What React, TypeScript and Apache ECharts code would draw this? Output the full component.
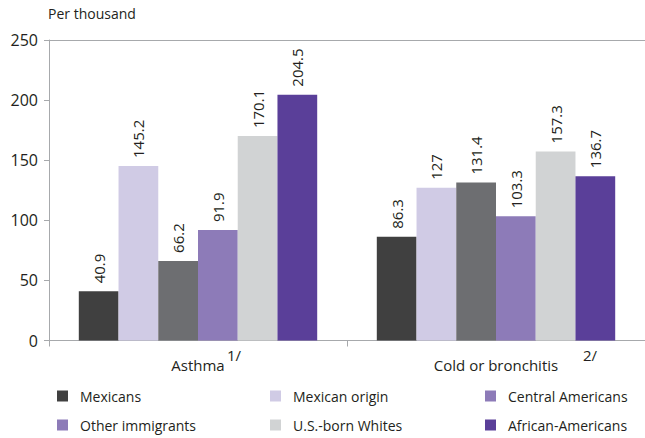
import React, { useEffect, useRef } from "react";
import * as echarts from "echarts";

const categories = ["Asthma", "Cold or bronchitis"];
const footnotes = ["1/", "2/"];
const seriesNames = [
  "Mexicans",
  "Mexican origin",
  "Central Americans",
  "Other immigrants",
  "U.S.-born Whites",
  "African-Americans",
];
const mexicans = [40.9, 86.3];
const mexicanOrigin = [145.2, 127];
const centralAmericans = [66.2, 131.4];
const otherImmigrants = [91.9, 103.3];
const usBornWhites = [170.1, 157.3];
const africanAmericans = [204.5, 136.7];
const yTicks = [0, 50, 100, 150, 200, 250];

const seriesValues = [mexicans, mexicanOrigin, centralAmericans, otherImmigrants, usBornWhites, africanAmericans];
const barColors = ["#404040", "#d0cbe5", "#6d6e71", "#8d7bb8", "#d1d3d4", "#5a3f99"];
const legendColors = ["#404040", "#d0cbe5", "#8d7bb8", "#8d7bb8", "#d1d3d4", "#5a3f99"];

const FONT = "'Open Sans', 'Noto Sans', sans-serif";
const TXT = "#231f20";
const AXIS = "#a7a9ac";

export default function App() {
  const ref = useRef<HTMLDivElement>(null);
  useEffect(() => {
    if (!ref.current) return;
    const chart = echarts.init(ref.current, undefined, { renderer: "svg" });
    const legendPos = [
      [57, 387],
      [270, 387],
      [485, 387],
      [57, 416],
      [270, 416],
      [485, 416],
    ];
    chart.setOption({
      animation: false,
      textStyle: { fontFamily: FONT, color: TXT },
      title: {
        text: "Per thousand",
        left: 48,
        top: 6,
        padding: 0,
        textStyle: { fontFamily: FONT, fontSize: 14, fontWeight: "normal", color: TXT },
      },
      grid: { left: 49, right: -6, top: 40, bottom: 97.5, containLabel: false },
      legend: seriesNames.map((n, i) => ({
        data: [{ name: n, itemStyle: { color: legendColors[i] } }],
        left: legendPos[i][0],
        top: legendPos[i][1],
        padding: 0,
        icon: "rect",
        itemWidth: 11,
        itemHeight: 11,
        selectedMode: false,
        textStyle: { fontFamily: FONT, fontSize: 14, color: TXT, lineHeight: 18, padding: [0, 0, 0, 7] },
      })),
      xAxis: [
        {
          type: "category",
          data: categories,
          axisLine: { lineStyle: { color: AXIS, width: 1 } },
          axisTick: { show: true, alignWithLabel: false, length: 6, lineStyle: { color: AXIS } },
          axisLabel: { fontFamily: FONT, fontSize: 15, color: TXT, margin: 17 },
        },
        {
          type: "category",
          data: categories,
          position: "top",
          axisLine: { show: true, lineStyle: { color: AXIS, width: 1 } },
          axisTick: { show: false },
          axisLabel: { show: false },
        },
      ],
      yAxis: {
        type: "value",
        min: yTicks[0],
        max: yTicks[yTicks.length - 1],
        interval: 50,
        axisLine: { show: true, lineStyle: { color: AXIS, width: 1 } },
        axisTick: { show: true, length: 5, lineStyle: { color: AXIS } },
        splitLine: { show: false },
        axisLabel: { fontFamily: FONT, fontSize: 16, color: TXT, margin: 11 },
      },
      graphic: footnotes.map((f, i) => ({
        type: "text",
        left: i === 0 ? 227 : 583,
        top: 347,
        style: { text: f, font: `15px ${FONT}`, fill: TXT },
      })),
      series: seriesNames.map((n, i) => ({
        name: n,
        type: "bar",
        data: seriesValues[i],
        barGap: "0%",
        barCategoryGap: "20%",
        itemStyle: { color: barColors[i] },
        label: {
          show: true,
          position: "top",
          rotate: 90,
          align: "left",
          verticalAlign: "middle",
          distance: 8,
          fontFamily: FONT,
          fontSize: 15,
          color: TXT,
        },
      })),
    });
    return () => chart.dispose();
  }, []);
  return (
    <div
      ref={ref}
      style={{ position: "absolute", left: 0, top: 0, width: 645, height: 438 }}
    />
  );
}
